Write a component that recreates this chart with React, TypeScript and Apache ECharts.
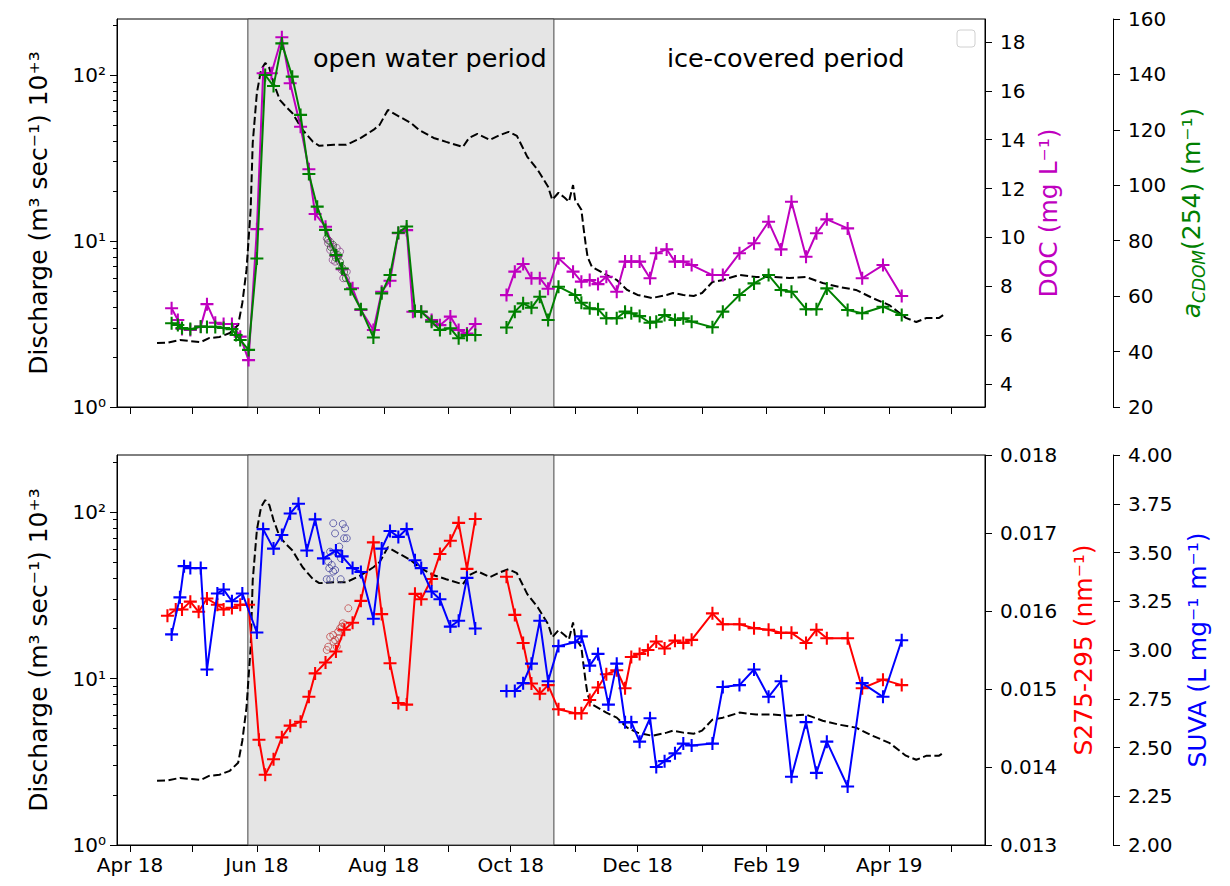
import React, { useEffect, useRef } from "react";
import * as echarts from "echarts";

// ---------------- data ----------------
const discharge: [string, number][] = [
  ["2018-04-14", 2.43], ["2018-04-19", 2.44], ["2018-04-25", 2.53], ["2018-05-05", 2.46],
  ["2018-05-09", 2.6], ["2018-05-14", 2.64], ["2018-05-19", 2.79], ["2018-05-23", 3.12],
  ["2018-05-25", 4.23], ["2018-05-27", 6.69], ["2018-05-29", 15.4], ["2018-05-30", 38.9],
  ["2018-06-01", 78], ["2018-06-03", 107], ["2018-06-05", 118], ["2018-06-07", 110],
  ["2018-06-09", 89.5], ["2018-06-12", 70.7], ["2018-06-15", 64.2], ["2018-06-18", 59],
  ["2018-06-23", 46.6], ["2018-06-28", 39.5], ["2018-07-01", 37.4], ["2018-07-08", 37.9],
  ["2018-07-14", 37.9], ["2018-07-21", 41.7], ["2018-07-27", 46.6], ["2018-07-30", 50],
  ["2018-08-03", 61.5], ["2018-08-07", 57.4], ["2018-08-14", 51.4], ["2018-08-18", 46.6],
  ["2018-08-25", 41.7], ["2018-08-31", 39.5], ["2018-09-08", 36.8], ["2018-09-11", 41.7],
  ["2018-09-15", 44.1], ["2018-09-21", 40.6], ["2018-09-26", 43.5], ["2018-09-30", 45.4],
  ["2018-10-04", 42.9], ["2018-10-09", 32.1], ["2018-10-14", 26.8], ["2018-10-19", 21.2],
  ["2018-10-21", 17.7], ["2018-10-24", 19.5], ["2018-10-27", 18.2], ["2018-10-29", 17.2],
  ["2018-10-31", 21.7], ["2018-11-01", 17.7], ["2018-11-04", 15.4], ["2018-11-05", 12.1],
  ["2018-11-06", 9.7], ["2018-11-07", 8.0], ["2018-11-09", 7.0], ["2018-11-16", 6.24],
  ["2018-11-21", 5.82], ["2018-11-26", 5.07], ["2018-12-01", 4.73], ["2018-12-08", 4.53],
  ["2018-12-15", 4.73], ["2018-12-18", 4.86], ["2018-12-23", 4.73], ["2018-12-28", 4.66],
  ["2019-01-01", 4.86], ["2019-01-06", 5.66], ["2019-01-11", 5.82], ["2019-01-19", 6.24],
  ["2019-01-27", 6.07], ["2019-02-04", 6.07], ["2019-02-12", 5.98], ["2019-02-20", 6.07],
  ["2019-02-28", 5.58], ["2019-03-08", 5.28], ["2019-03-16", 5.07], ["2019-03-24", 4.53],
  ["2019-04-01", 4.11], ["2019-04-09", 3.44], ["2019-04-14", 3.25], ["2019-04-19", 3.44],
  ["2019-04-25", 3.44], ["2019-04-27", 3.58],
];

const doc: [string, number | null][] = [
  ["2018-04-21", 7.1], ["2018-04-24", 6.62], ["2018-04-26", 6.25], ["2018-04-30", 6.21],
  ["2018-05-05", 6.35], ["2018-05-08", 7.27], ["2018-05-12", 6.51], ["2018-05-16", 6.46],
  ["2018-05-20", 6.46], ["2018-05-24", 5.94], ["2018-05-28", 4.98], ["2018-06-01", 10.34],
  ["2018-06-04", 16.72], ["2018-06-08", 16.72], ["2018-06-13", 18.19], ["2018-06-17", 16.31],
  ["2018-06-22", 14.53], ["2018-06-26", 12.79], ["2018-06-29", 10.96], ["2018-07-04", 10.44],
  ["2018-07-09", 9.25], ["2018-07-12", 8.7], ["2018-07-17", 7.92], ["2018-07-21", 7.03],
  ["2018-07-27", 6.21], ["2018-07-31", 7.78], ["2018-08-04", 8.23], ["2018-08-08", 10.17],
  ["2018-08-12", 10.3], ["2018-08-15", 6.96], ["2018-08-19", 6.96], ["2018-08-24", 6.62],
  ["2018-08-28", 6.41], ["2018-09-02", 6.76], ["2018-09-06", 6.21], ["2018-09-10", 6.07],
  ["2018-09-14", 6.46], ["2018-09-22", null], ["2018-09-29", 7.64], ["2018-10-03", 8.6],
  ["2018-10-07", 8.91], ["2018-10-11", 8.33], ["2018-10-15", 8.33], ["2018-10-19", 7.9],
  ["2018-10-24", 9.15], ["2018-10-31", 8.6], ["2018-11-04", 8.19], ["2018-11-08", 8.26],
  ["2018-11-12", 8.09], ["2018-11-16", 8.39], ["2018-11-21", 7.78], ["2018-11-25", 9.01],
  ["2018-11-28", 9.01], ["2018-12-02", 9.01], ["2018-12-07", 8.33], ["2018-12-10", 9.35],
  ["2018-12-15", 9.51], ["2018-12-19", 9.01], ["2018-12-23", 9.01], ["2018-12-27", 8.87],
  ["2019-01-06", 8.46], ["2019-01-11", 8.46], ["2019-01-19", 9.35], ["2019-01-26", 9.76],
  ["2019-02-02", 10.64], ["2019-02-08", 9.51], ["2019-02-13", 11.46], ["2019-02-20", 9.21],
  ["2019-02-25", 10.17], ["2019-03-02", 10.74], ["2019-03-12", 10.37], ["2019-03-19", 8.33],
  ["2019-03-29", 8.87], ["2019-04-07", 7.6],
];

const acdom: [string, number | null][] = [
  ["2018-04-21", 50.2], ["2018-04-24", 49.6], ["2018-04-26", 48.5], ["2018-04-30", 48.1],
  ["2018-05-05", 49.0], ["2018-05-08", 48.9], ["2018-05-12", 48.9], ["2018-05-16", 48.5],
  ["2018-05-20", 48.1], ["2018-05-22", 46.0], ["2018-05-24", 44.2], ["2018-05-28", 40.6],
  ["2018-06-01", 73.6], ["2018-06-05", 139.8], ["2018-06-09", 135.8], ["2018-06-13", 151.2],
  ["2018-06-18", 139.2], ["2018-06-22", 125.4], ["2018-06-26", 104.1], ["2018-06-30", 92.3],
  ["2018-07-04", 83.9], ["2018-07-09", 74.8], ["2018-07-12", 70.0], ["2018-07-16", 62.5],
  ["2018-07-21", 55.3], ["2018-07-27", 45.1], ["2018-07-31", 61.0], ["2018-08-04", 67.6],
  ["2018-08-08", 82.9], ["2018-08-12", 85.1], ["2018-08-16", 54.6], ["2018-08-19", 54.4],
  ["2018-08-24", 50.8], ["2018-08-28", 47.8], ["2018-09-02", 48.4], ["2018-09-06", 44.8],
  ["2018-09-10", 46.0], ["2018-09-14", 46.0], ["2018-09-22", null], ["2018-09-29", 48.7],
  ["2018-10-03", 54.4], ["2018-10-07", 57.4], ["2018-10-11", 55.8], ["2018-10-15", 59.8],
  ["2018-10-19", 51.4], ["2018-10-24", 63.4], ["2018-11-01", 60.4], ["2018-11-04", 57.6],
  ["2018-11-08", 55.6], ["2018-11-12", 55.3], ["2018-11-16", 52.0], ["2018-11-21", 52.0],
  ["2018-11-25", 54.4], ["2018-11-28", 53.8], ["2018-12-02", 52.8], ["2018-12-07", 50.4],
  ["2018-12-10", 50.8], ["2018-12-14", 53.2], ["2018-12-19", 51.4], ["2018-12-23", 52.0],
  ["2018-12-27", 50.8], ["2019-01-06", 48.8], ["2019-01-11", 54.4], ["2019-01-19", 60.4],
  ["2019-01-26", 64.6], ["2019-02-02", 67.6], ["2019-02-08", 62.2], ["2019-02-13", 61.6],
  ["2019-02-20", 55.3], ["2019-02-25", 55.3], ["2019-03-02", 62.8], ["2019-03-12", 55.0],
  ["2019-03-19", 53.8], ["2019-03-29", 56.2], ["2019-04-07", 53.2],
];

const docHighFreq: [string, number][] = [
  ["2018-07-04 14:00", 9.96], ["2018-07-05 05:00", 9.77], ["2018-07-06 05:00", 9.49],
  ["2018-07-07 14:00", 9.62], ["2018-07-09 10:00", 9.57], ["2018-07-11 00:00", 9.42],
  ["2018-07-07 10:00", 9.08], ["2018-07-08 14:00", 9.01], ["2018-07-11 19:00", 8.67],
  ["2018-07-12 12:00", 8.33], ["2018-07-14 05:00", 8.6], ["2018-07-10 02:00", 9.21],
  ["2018-07-06 06:00", 9.82],
];

const acdomHighFreq: [string, number][] = [
  ["2018-07-05 05:00", 80.3], ["2018-07-06 14:00", 77.7], ["2018-07-08 02:00", 75.9],
  ["2018-07-09 00:00", 73.8], ["2018-07-10 00:00", 74.8], ["2018-07-11 00:00", 72.3],
  ["2018-07-11 22:00", 70.2], ["2018-07-12 22:00", 68.7], ["2018-07-13 19:00", 66.5],
  ["2018-07-07 14:00", 78.5],
];

const slope: [string, number | null][] = [
  ["2018-04-19", 0.01594], ["2018-04-23", 0.01602], ["2018-04-26", 0.01602], ["2018-04-30", 0.01612],
  ["2018-05-04", 0.01599], ["2018-05-08", 0.01616], ["2018-05-13", 0.01608], ["2018-05-16", 0.01602],
  ["2018-05-20", 0.01604], ["2018-05-24", 0.01608], ["2018-05-28", 0.01608], ["2018-06-02", 0.01435],
  ["2018-06-05", 0.0139], ["2018-06-09", 0.0141], ["2018-06-13", 0.01438], ["2018-06-17", 0.01453],
  ["2018-06-22", 0.01458], ["2018-06-26", 0.0149], ["2018-06-29", 0.0152], ["2018-07-04", 0.01534],
  ["2018-07-09", 0.01548], ["2018-07-13", 0.01576], ["2018-07-17", 0.01585], ["2018-07-21", 0.01613],
  ["2018-07-27", 0.01688], ["2018-07-31", 0.01596], ["2018-08-04", 0.01533], ["2018-08-08", 0.01482],
  ["2018-08-12", 0.0148], ["2018-08-16", 0.01622], ["2018-08-19", 0.01615], ["2018-08-24", 0.01641],
  ["2018-08-28", 0.01673], ["2018-09-02", 0.0169], ["2018-09-06", 0.01713], ["2018-09-10", 0.01654],
  ["2018-09-14", 0.01718], ["2018-09-22", null], ["2018-09-29", 0.01644], ["2018-10-03", 0.01595],
  ["2018-10-07", 0.01559], ["2018-10-11", 0.01507], ["2018-10-15", 0.01494], ["2018-10-19", 0.01505],
  ["2018-10-24", 0.01474], ["2018-11-01", 0.01469], ["2018-11-04", 0.01469], ["2018-11-08", 0.01486],
  ["2018-11-12", 0.01502], ["2018-11-16", 0.01519], ["2018-11-21", 0.01524], ["2018-11-25", 0.01501],
  ["2018-11-28", 0.01541], ["2018-12-02", 0.01545], ["2018-12-06", 0.0155], ["2018-12-10", 0.01561],
  ["2018-12-14", 0.01552], ["2018-12-19", 0.01562], ["2018-12-23", 0.01559], ["2018-12-27", 0.01563],
  ["2019-01-06", 0.01597], ["2019-01-11", 0.01583], ["2019-01-19", 0.01583], ["2019-01-26", 0.01578],
  ["2019-02-02", 0.01576], ["2019-02-08", 0.01572], ["2019-02-13", 0.01572], ["2019-02-20", 0.01559],
  ["2019-02-25", 0.01576], ["2019-03-02", 0.01565], ["2019-03-12", 0.01565], ["2019-03-19", 0.01501],
  ["2019-03-29", 0.01512], ["2019-04-07", 0.01505],
];

const suva: [string, number | null][] = [
  ["2018-04-21", 3.08], ["2018-04-25", 3.27], ["2018-04-27", 3.43], ["2018-04-30", 3.42],
  ["2018-05-05", 3.42], ["2018-05-08", 2.9], ["2018-05-13", 3.29], ["2018-05-16", 3.31],
  ["2018-05-20", 3.25], ["2018-05-25", 3.29], ["2018-06-01", 3.09], ["2018-06-04", 3.62],
  ["2018-06-09", 3.52], ["2018-06-13", 3.59], ["2018-06-17", 3.7], ["2018-06-21", 3.75],
  ["2018-06-25", 3.51], ["2018-06-29", 3.67], ["2018-07-03", 3.47], ["2018-07-09", 3.51],
  ["2018-07-12", 3.48], ["2018-07-17", 3.42], ["2018-07-21", 3.4], ["2018-07-27", 3.16],
  ["2018-07-31", 3.52], ["2018-08-04", 3.61], ["2018-08-08", 3.58], ["2018-08-12", 3.62],
  ["2018-08-16", 3.46], ["2018-08-19", 3.42], ["2018-08-24", 3.3], ["2018-08-28", 3.26],
  ["2018-09-02", 3.12], ["2018-09-06", 3.15], ["2018-09-10", 3.37], ["2018-09-14", 3.11],
  ["2018-09-22", null], ["2018-09-29", 2.79], ["2018-10-03", 2.79], ["2018-10-07", 2.83],
  ["2018-10-11", 2.93], ["2018-10-15", 3.15], ["2018-10-19", 2.84], ["2018-10-24", 3.02],
  ["2018-11-01", 3.04], ["2018-11-04", 3.07], ["2018-11-08", 2.92], ["2018-11-12", 2.98],
  ["2018-11-17", 2.72], ["2018-11-21", 2.93], ["2018-11-25", 2.63], ["2018-11-28", 2.63],
  ["2018-12-02", 2.53], ["2018-12-07", 2.65], ["2018-12-10", 2.4], ["2018-12-14", 2.43],
  ["2018-12-19", 2.47], ["2018-12-23", 2.52], ["2018-12-27", 2.51], ["2019-01-06", 2.52],
  ["2019-01-11", 2.81], ["2019-01-19", 2.82], ["2019-01-26", 2.9], ["2019-02-02", 2.76],
  ["2019-02-08", 2.84], ["2019-02-13", 2.35], ["2019-02-20", 2.63], ["2019-02-25", 2.37],
  ["2019-03-02", 2.53], ["2019-03-12", 2.3], ["2019-03-19", 2.83], ["2019-03-29", 2.76],
  ["2019-04-07", 3.05],
];

const suvaHighFreq: [string, number][] = [
  ["2018-07-04 14:00", 3.363], ["2018-07-05 07:00", 3.453], ["2018-07-05 19:00", 3.419],
  ["2018-07-06 05:00", 3.504], ["2018-07-06 06:00", 3.363], ["2018-07-07 00:00", 3.436],
  ["2018-07-07 17:00", 3.65], ["2018-07-07 16:00", 3.402], ["2018-07-08 14:00", 3.598],
  ["2018-07-08 15:00", 3.41], ["2018-07-09 17:00", 3.496], ["2018-07-10 14:00", 3.53],
  ["2018-07-11 07:00", 3.363], ["2018-07-11 10:00", 3.47], ["2018-07-12 07:00", 3.646],
  ["2018-07-12 22:00", 3.573], ["2018-07-13 10:00", 3.624], ["2018-07-14 05:00", 3.573],
];

const slopeHighFreq: [string, number][] = [
  ["2018-07-14 23:00", 0.016035], ["2018-07-11 19:00", 0.015799], ["2018-07-13 10:00", 0.015821],
  ["2018-07-10 02:00", 0.015735], ["2018-07-07 17:00", 0.015692], ["2018-07-06 05:00", 0.015671],
  ["2018-07-08 14:00", 0.015628], ["2018-07-05 07:00", 0.015542], ["2018-07-09 10:00", 0.015542],
  ["2018-07-11 00:00", 0.015778], ["2018-07-12 07:00", 0.015842], ["2018-07-04 14:00", 0.0155],
  ["2018-07-07 20:00", 0.015606], ["2018-07-10 05:00", 0.01565],
];

const openWaterPeriod = ["2018-05-27 16:00", "2018-10-21 19:00"];
const xRangeDates = ["2018-03-25 18:00", "2019-05-17 01:00"];
const monthTicks = [
  "2018-04-01", "2018-05-01", "2018-06-01", "2018-07-01", "2018-08-01", "2018-09-01", "2018-10-01",
  "2018-11-01", "2018-12-01", "2019-01-01", "2019-02-01", "2019-03-01", "2019-04-01", "2019-05-01",
];
const monthLabels = ["2018-04-01", "2018-06-01", "2018-08-01", "2018-10-01", "2018-12-01", "2019-02-01", "2019-04-01"];
const logMajor = [1, 10, 100];
const logMinor = [2, 3, 4, 5, 6, 7, 8, 9, 20, 30, 40, 50, 60, 70, 80, 90, 200];
const docTicks = [4, 6, 8, 10, 12, 14, 16, 18];
const MONTHS = ["Jan", "Feb", "Mar", "Apr", "May", "Jun", "Jul", "Aug", "Sep", "Oct", "Nov", "Dec"];

// ---------------- styles ----------------
const FONT = "DejaVu Sans";
const MAG = "#bf00bf";
const GRN = "#008000";
const RED = "#ff0000";
const BLU = "#0000ff";
const PLUS = "path://M4.2,0H5.8V4.2H10V5.8H5.8V10H4.2V5.8H0V4.2H4.2Z";
const tickStyle = { color: "#000", width: 1 };
const labelStyle = { color: "#000", fontSize: 20, fontFamily: FONT };

const toTs = (s: string) => {
  const [d, t] = s.split(" ");
  const [y, m, dd] = d.split("-").map(Number);
  const [hh, mm] = (t || "00:00").split(":").map(Number);
  return new Date(y, m - 1, dd, hh, mm).getTime();
};

const supDigits = ["⁰", "¹", "²", "³"];
const logFmt = (v: number) => {
  const l = Math.log10(v);
  const e = Math.round(l);
  return Math.abs(l - e) < 1e-6 ? "10" + supDigits[e] : "";
};

function xAxis(grid: number, labels: boolean) {
  return {
    type: "value",
    gridIndex: grid,
    min: toTs(xRangeDates[0]),
    max: toTs(xRangeDates[1]),
    axisLine: { show: true, onZero: false, lineStyle: tickStyle },
    axisTick: { show: true, length: 7, lineStyle: tickStyle, customValues: monthTicks.map(toTs) },
    axisLabel: {
      show: labels,
      ...labelStyle,
      margin: 10,
      customValues: monthLabels.map(toTs),
      formatter: (v: number) => {
        const d = new Date(v);
        return `${MONTHS[d.getMonth()]} ${String(d.getFullYear()).slice(2)}`;
      },
    },
    splitLine: { show: false },
  };
}

function logAxes(grid: number, max: number) {
  return [
    {
      type: "log",
      logBase: 10,
      gridIndex: grid,
      position: "left",
      min: 1,
      max,
      name: "Discharge (m³ sec⁻¹) 10⁺³",
      nameLocation: "middle",
      nameRotate: 90,
      nameGap: 66,
      nameTextStyle: { color: "#000", fontSize: 25, fontFamily: FONT },
      axisLine: { show: true, onZero: false, lineStyle: tickStyle },
      axisTick: { show: true, length: 7, lineStyle: tickStyle, customValues: logMajor },
      axisLabel: { ...labelStyle, margin: 11, customValues: logMajor, formatter: logFmt },
      splitLine: { show: false },
    },
    {
      type: "log",
      logBase: 10,
      gridIndex: grid,
      position: "left",
      min: 1,
      max,
      axisLine: { show: false, onZero: false },
      axisTick: { show: true, length: 4, lineStyle: tickStyle, customValues: logMinor },
      axisLabel: { show: false },
      splitLine: { show: false },
    },
  ];
}

function rightAxis(grid: number, extra: any) {
  return {
    type: "value",
    gridIndex: grid,
    position: "right",
    nameLocation: "middle",
    nameRotate: 90,
    axisLine: { show: true, onZero: false, lineStyle: tickStyle },
    axisTick: { show: true, length: 7, lineStyle: tickStyle },
    splitLine: { show: false },
    ...extra,
    axisLabel: { ...labelStyle, margin: 15, ...(extra.axisLabel || {}) },
  };
}

const shade = (xi: number, yi: number) => ({
  type: "line",
  xAxisIndex: xi,
  yAxisIndex: yi,
  data: [],
  silent: true,
  z: 1,
  markArea: {
    silent: true,
    itemStyle: { color: "#e5e5e5", borderColor: "#444", borderWidth: 1 },
    data: [[{ xAxis: toTs(openWaterPeriod[0]) }, { xAxis: toTs(openWaterPeriod[1]) }]],
  },
});

const dischargeSeries = (xi: number, yi: number) => ({
  type: "line",
  xAxisIndex: xi,
  yAxisIndex: yi,
  data: discharge.map(([d, v]) => [toTs(d), v]),
  symbol: "none",
  lineStyle: { color: "#000", width: 2, type: [8, 3.5] },
  z: 2,
  silent: true,
});

const plusLine = (xi: number, yi: number, data: [string, number | null][], color: string, z: number) => ({
  type: "line",
  xAxisIndex: xi,
  yAxisIndex: yi,
  data: data.map(([d, v]) => [toTs(d), v === null ? "-" : v]),
  symbol: PLUS,
  symbolSize: 13,
  showAllSymbol: true,
  connectNulls: false,
  lineStyle: { color, width: 2 },
  itemStyle: { color },
  z,
  silent: true,
});

const circles = (xi: number, yi: number, data: [string, number][], color: string) => ({
  type: "scatter",
  xAxisIndex: xi,
  yAxisIndex: yi,
  data: data.map(([d, v]) => [toTs(d), v]),
  symbol: "circle",
  symbolSize: 7,
  itemStyle: { color: "rgba(0,0,0,0)", borderColor: color, borderWidth: 1, opacity: 0.75 },
  z: 2,
  silent: true,
});

const option: any = {
  animation: false,
  textStyle: { fontFamily: FONT },
  grid: [
    { left: 117, top: 19, width: 868, height: 388, show: true, borderColor: "#000", borderWidth: 1, backgroundColor: "transparent" },
    { left: 117, top: 455, width: 868, height: 390, show: true, borderColor: "#000", borderWidth: 1, backgroundColor: "transparent" },
  ],
  xAxis: [xAxis(0, false), xAxis(1, true)],
  yAxis: [
    ...logAxes(0, 217),
    rightAxis(0, {
      min: 3.06,
      max: 18.94,
      offset: 0,
      name: "DOC (mg L⁻¹)",
      nameGap: 50,
      nameTextStyle: { color: MAG, fontSize: 25, fontFamily: FONT },
      axisTick: { show: true, length: 7, lineStyle: tickStyle, customValues: docTicks },
      axisLabel: { customValues: docTicks },
    }),
    rightAxis(0, {
      min: 20,
      max: 160,
      interval: 20,
      offset: 128,
      name: "{i|a}{s|CDOM}{n|(254) (m⁻¹)}",
      nameGap: 62,
      nameTextStyle: {
        color: GRN,
        fontSize: 25,
        fontFamily: FONT,
        rich: {
          i: { color: GRN, fontSize: 25, fontStyle: "italic", fontFamily: FONT, lineHeight: 32 },
          s: { color: GRN, fontSize: 17, fontStyle: "italic", fontFamily: FONT, lineHeight: 17, verticalAlign: "bottom" },
          n: { color: GRN, fontSize: 25, fontFamily: FONT, lineHeight: 32 },
        },
      },
    }),
    ...logAxes(1, 220),
    rightAxis(1, {
      min: 0.013,
      max: 0.018,
      interval: 0.001,
      offset: 0,
      name: "S275-295 (nm⁻¹)",
      nameGap: 86,
      nameTextStyle: { color: RED, fontSize: 25, fontFamily: FONT },
      axisLabel: { formatter: (v: number) => v.toFixed(3) },
    }),
    rightAxis(1, {
      min: 2,
      max: 4,
      interval: 0.25,
      offset: 128,
      name: "SUVA (L mg⁻¹ m⁻¹)",
      nameGap: 72,
      nameTextStyle: { color: BLU, fontSize: 25, fontFamily: FONT },
      axisLabel: { formatter: (v: number) => v.toFixed(2) },
    }),
  ],
  series: [
    shade(0, 0),
    dischargeSeries(0, 0),
    circles(0, 2, docHighFreq, "#8a3d8a"),
    circles(0, 3, acdomHighFreq, "#2d5e2d"),
    plusLine(0, 2, doc, MAG, 3),
    plusLine(0, 3, acdom, GRN, 4),
    shade(1, 4),
    dischargeSeries(1, 4),
    circles(1, 7, suvaHighFreq, "#3d3d99"),
    circles(1, 6, slopeHighFreq, "#c04040"),
    plusLine(1, 6, slope, RED, 3),
    plusLine(1, 7, suva, BLU, 4),
  ],
  graphic: [
    {
      type: "text",
      left: 313,
      top: 45,
      style: { text: "open water period", fontSize: 25.5, fontFamily: FONT, fill: "#000" },
      z: 10,
    },
    {
      type: "text",
      left: 667,
      top: 45,
      style: { text: "ice-covered period", fontSize: 25.5, fontFamily: FONT, fill: "#000" },
      z: 10,
    },
    {
      type: "rect",
      shape: { x: 957, y: 30, width: 18, height: 17, r: 3 },
      style: { fill: "rgba(255,255,255,0.8)", stroke: "#d0d0d0", lineWidth: 1 },
      z: 10,
    },
  ],
};

export default function App() {
  const ref = useRef<HTMLDivElement>(null);
  useEffect(() => {
    const chart = echarts.init(ref.current!, null, { renderer: "svg" });
    chart.setOption(option);
    return () => chart.dispose();
  }, []);
  return (
    <div
      ref={ref}
      style={{ position: "fixed", left: 0, top: 0, width: 1230, height: 886, background: "#fff" }}
    />
  );
}
